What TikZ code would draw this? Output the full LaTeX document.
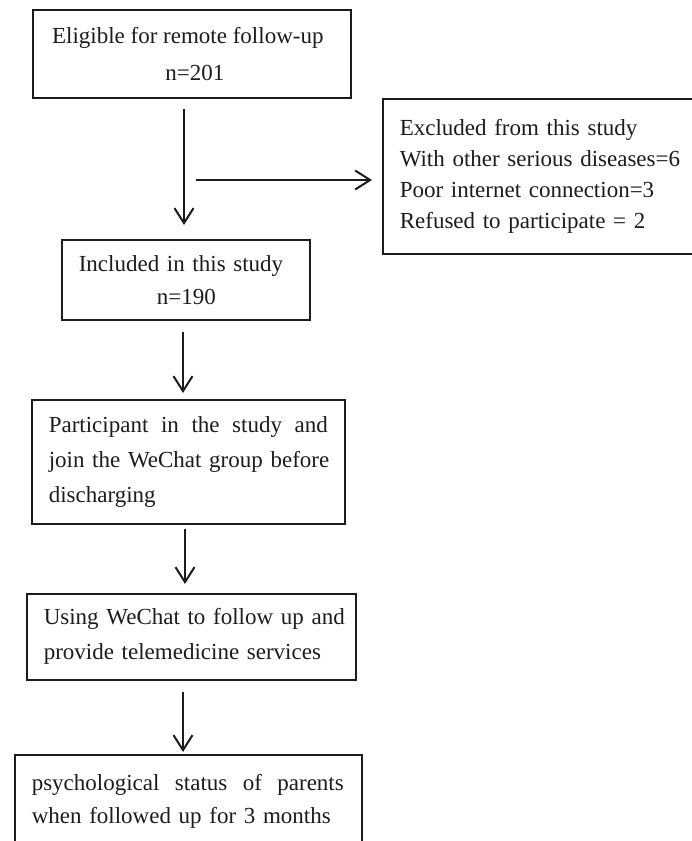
\documentclass[tikz,border=0pt]{standalone}
\usepackage{fontspec}
\setmainfont{Liberation Serif}
\usetikzlibrary{arrows.meta}
\definecolor{ink}{HTML}{1C1C1C}
\tikzset{
  box/.style={draw=ink, line width=1.6pt, inner sep=0pt, text=ink, anchor=north west},
  flow/.style={draw=ink, line width=2pt, -{Straight Barb[length=15pt,width=19pt,line width=2pt]}},
}
\begin{document}
\begin{tikzpicture}[x=1pt,y=-1pt]
\useasboundingbox (0,0) rectangle (692,841);
\clip (0,0) rectangle (692,841);
\fontsize{23}{35}\selectfont
% boxes
\node[box, minimum width=318pt, minimum height=88pt, align=center,
      font=\fontsize{23}{37}\selectfont] (b1) at (32,9)
  {\hspace*{-8pt}Eligible for remote follow-up\\ \hspace*{6pt}n=201};
\node[box, minimum width=330pt, minimum height=155pt, text width=330pt,
      font=\fontsize{23}{31}\selectfont] (ex) at (382,98)
  {\hspace*{17pt}\parbox{300pt}{\raggedright Excluded from this study\\
   With other serious diseases=6\\ Poor internet connection=3\\ Refused to participate = 2}};
\node[box, minimum width=248pt, minimum height=80pt, text width=248pt,
      font=\fontsize{23}{33}\selectfont] (b2) at (61,239)
  {\hspace*{17pt}\parbox{220pt}{\raggedright Included in this study\\ \hspace*{78pt}n=190}};
\node[box, minimum width=313pt, minimum height=124pt, text width=313pt,
      font=\fontsize{23}{35}\selectfont] (b3) at (31,399)
  {\raisebox{-3pt}{\hspace*{17pt}\parbox{279pt}{%
   \hbox to 279pt{Participant\hfill\ in\hfill\ the\hfill\ study\hfill\ and}
   \hbox to 279pt{join\hfill\ the\hfill\ WeChat\hfill\ group\hfill\ before}
   \hbox{discharging}}}};
\node[box, minimum width=329pt, minimum height=86pt, text width=329pt,
      font=\fontsize{23}{35}\selectfont] (b4) at (26,593)
  {\hspace*{17pt}\parbox{305pt}{\raggedright Using WeChat to follow up and\\ provide telemedicine services}};
\node[box, minimum width=347pt, minimum height=94pt, text width=347pt,
      font=\fontsize{23}{33}\selectfont] (b5) at (14,754)
  {\raisebox{4pt}{\hspace*{17pt}\parbox{312pt}{%
   \hbox to 312pt{psychological\hfill\ status\hfill\ of\hfill\ parents}
   \hbox{when followed up for 3 months}}}};
% connectors
\coordinate (split) at (184,180);
\draw[flow] ([yshift=-10pt]b1.south -| split) -- ([yshift=14pt]b2.north -| split);
\draw[flow] ([xshift=12pt]split) -- ([xshift=-10pt]split -| ex.west);
\draw[flow] ([yshift=-11pt]b2.south -| 183,0) -- ([yshift=6pt]b3.north -| 183,0);
\draw[flow] ([yshift=-4pt]b3.south -| 185,0) -- ([yshift=9pt]b4.north -| 185,0);
\draw[flow] ([yshift=-11pt]b4.south -| 183,0) -- ([yshift=2pt]b5.north -| 183,0);
\end{tikzpicture}
\end{document}
